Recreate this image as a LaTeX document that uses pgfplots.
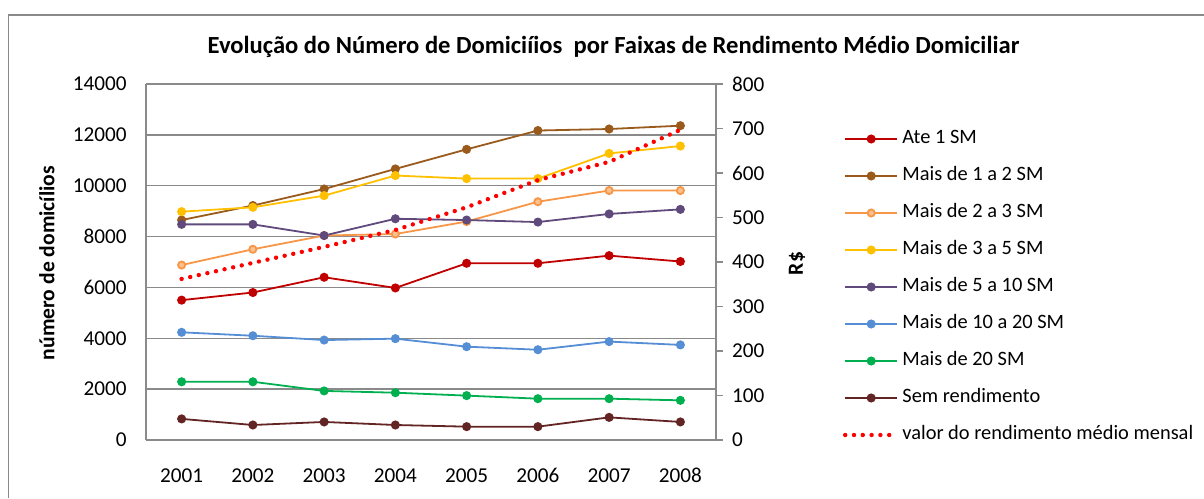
\documentclass[border=0pt]{standalone}
\usepackage{fontspec}
\setmainfont{Carlito}
\usepackage{pgfplots}
\pgfplotsset{compat=1.18}
\definecolor{axisgray}{HTML}{8A8A8A}
\definecolor{cA}{HTML}{C00000}
\definecolor{cB}{HTML}{9A5A1C}
\definecolor{cC}{HTML}{F79646}
\definecolor{cCf}{HTML}{FAC090}
\definecolor{cD}{HTML}{FFC000}
\definecolor{cE}{HTML}{604A7B}
\definecolor{cF}{HTML}{558ED5}
\definecolor{cG}{HTML}{00B050}
\definecolor{cH}{HTML}{632523}
\definecolor{cR}{HTML}{FF0000}
\newcommand{\tf}{\fontsize{10.6}{12}\selectfont}
\newcommand{\lf}{\fontsize{10.2}{12}\selectfont}
\begin{document}
\begin{tikzpicture}
\path[use as bounding box] (0,0) rectangle (602pt,249pt);
\begin{scope}[x=0.5pt,y=0.5pt]
\draw[axisgray, line width=0.7pt] (8.5,0) -- (8.5,483) -- (1204,483);
\node[anchor=base, font=\fontsize{12.3}{14}\selectfont\bfseries] at (613.5,444) {Evolução do Número de Domiciíios\ \ por Faixas de Rendimento Médio Domiciliar};
\node[rotate=90, font=\fontsize{10.8}{12}\selectfont\bfseries] at (47,235) {número de domicílios};
\node[rotate=90, font=\fontsize{10.8}{12}\selectfont\bfseries] at (797,234.5) {R\$};
\end{scope}
\pgfplotsset{
  every axis/.append style={
    at={(73pt,29pt)}, anchor=south west,
    scale only axis, width=285pt, height=178pt,
    xmin=-0.5, xmax=7.5,
    tick label style={font=\tf},
    scaled y ticks=false,
    /pgf/number format/1000 sep={},
    /pgf/number format/assume math mode=true,
  },
  ser/.style={line width=0.9pt, mark=*, mark size=1.8pt, color=#1, mark options={solid, fill=#1}},
}
\begin{axis}[
  ymin=0, ymax=14000,
  xtick={0,...,7}, xticklabels={2001,2002,2003,2004,2005,2006,2007,2008},
  ytick={0,2000,...,14000},
  axis x line*=bottom, axis y line*=left,
  axis line style={draw=axisgray, line width=0.7pt},
  ymajorgrids, grid style={draw=axisgray, line width=0.7pt},
  major tick length=0pt,
  xticklabel style={anchor=north, inner sep=0pt, yshift=-14pt},
  yticklabel style={anchor=east, inner sep=0pt, xshift=-9.5pt},
]
\addplot[ser=cA] coordinates {(0,5500) (1,5800) (2,6400) (3,5980) (4,6950) (5,6950) (6,7250) (7,7020)};
\addplot[ser=cB] coordinates {(0,8650) (1,9220) (2,9870) (3,10660) (4,11430) (5,12170) (6,12230) (7,12360)};
\addplot[line width=0.9pt, color=cC, mark=*, mark size=1.8pt, mark options={solid, draw=cC, fill=cCf}] coordinates {(0,6880) (1,7500) (2,8040) (3,8100) (4,8590) (5,9370) (6,9810) (7,9810)};
\addplot[ser=cD] coordinates {(0,8980) (1,9150) (2,9610) (3,10400) (4,10280) (5,10280) (6,11270) (7,11560)};
\addplot[ser=cE] coordinates {(0,8480) (1,8480) (2,8040) (3,8700) (4,8650) (5,8570) (6,8890) (7,9070)};
\addplot[ser=cF] coordinates {(0,4235) (1,4100) (2,3930) (3,3985) (4,3670) (5,3550) (6,3870) (7,3740)};
\addplot[ser=cG] coordinates {(0,2290) (1,2290) (2,1930) (3,1860) (4,1745) (5,1625) (6,1625) (7,1560)};
\addplot[ser=cH] coordinates {(0,830) (1,590) (2,710) (3,590) (4,525) (5,525) (6,890) (7,710)};
\end{axis}
\begin{axis}[
  ymin=0, ymax=800,
  ytick={0,100,...,800},
  axis x line=none, axis y line*=right,
  axis line style={draw=axisgray, line width=0.7pt},
  tick align=outside, major tick length=3.4pt,
  tick style={draw=axisgray, line width=0.7pt},
  yticklabel style={anchor=west, inner sep=0pt, xshift=4.5pt},
  legend cell align=left,
  legend image code/.code={\draw[mark repeat=2,mark phase=2,#1] plot coordinates {(0pt,0pt) (13pt,0pt) (26pt,0pt)};},
  legend style={draw=none, fill=none, inner sep=0pt, outer sep=0pt,
    at={(1.2228,0.8975)}, anchor=north west, font=\lf, row sep=0pt, column sep=1.5pt,
    nodes={inner sep=0pt, text height=6.8pt, text depth=2pt, minimum height=18.5pt}},
]
\addlegendimage{ser=cA}\addlegendentry{Ate 1 SM}
\addlegendimage{ser=cB}\addlegendentry{Mais de 1 a 2 SM}
\addlegendimage{line width=0.9pt, color=cC, mark=*, mark size=1.8pt, mark options={solid, draw=cC, fill=cCf}}\addlegendentry{Mais de 2 a 3 SM}
\addlegendimage{ser=cD}\addlegendentry{Mais de 3 a 5 SM}
\addlegendimage{ser=cE}\addlegendentry{Mais de 5 a 10 SM}
\addlegendimage{ser=cF}\addlegendentry{Mais de 10 a 20 SM}
\addlegendimage{ser=cG}\addlegendentry{Mais de 20 SM}
\addlegendimage{ser=cH}\addlegendentry{Sem rendimento}
\addplot[cR, line width=2.2pt, line cap=round, dash pattern=on 0pt off 4.4pt] coordinates {(0,362) (1,398) (2,434) (3,472) (4,523) (5,584) (6,625) (7,697)};
\addlegendentry{valor do rendimento médio mensal}
\end{axis}
\end{tikzpicture}
\end{document}
